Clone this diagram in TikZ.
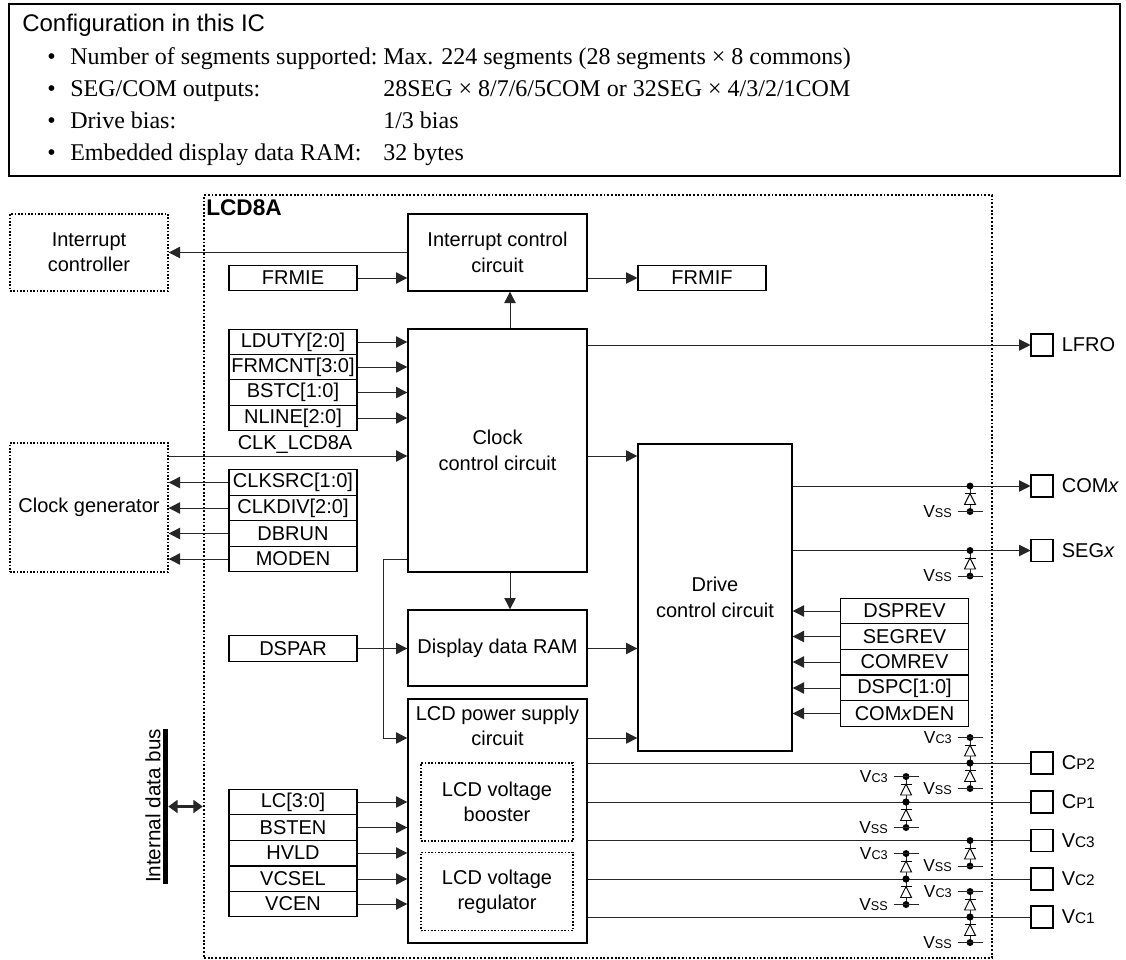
\documentclass[tikz,border=0pt]{standalone}
\usepackage{fontspec}
\setmainfont{Liberation Sans}
\newfontfamily\cfgfont{Liberation Serif}
\usetikzlibrary{arrows.meta}
\newcommand{\smalltype}[1]{{\fontsize{11.5}{11.5}\selectfont #1}}
\newcommand{\railtype}[1]{{\fontsize{9.5}{9.5}\selectfont #1}}
\tikzset{
  every node/.style={inner sep=0pt,align=center,font=\fontsize{15}{19}\selectfont},
  blockbox/.style={draw,line width=1pt,fill=white,minimum width=134.25pt},
  regbox/.style={draw,line width=.8pt,fill=white,minimum width=96pt,minimum height=19.2pt},
  pinbox/.style={draw,line width=.8pt,minimum width=16.5pt,minimum height=16.5pt},
  dotbox/.style={draw,line width=1pt,dash pattern=on 1.2pt off 1.3pt},
  sig/.style={line width=.75pt,black!85,-{Triangle[length=8.5pt,width=8.5pt]}},
  wire/.style={line width=.75pt,black!85},
  cfgtext/.style={anchor=base west,font=\cfgfont\fontsize{18}{20}\selectfont},
  railtext/.style={anchor=east,font=\fontsize{13}{15}\selectfont},
  pintext/.style={anchor=west},
  diodepic/.pic={
    \draw[line width=.7pt] (-5.5,0) -- (5.5,0);
    \draw[line width=.7pt,fill=white] (0,0) -- (-5.5,11) -- (5.5,11) -- cycle;
  }
}
\begin{document}
\begin{tikzpicture}[x=0.75pt,y=-0.75pt]
  \useasboundingbox (0,0) rectangle (1126,959);
  \node[draw,line width=.9pt,minimum width=833.25pt,minimum height=129pt] (cfgbox) at (564.5,90) {};
  \node[anchor=base west,font=\fontsize{18}{20}\selectfont] (cfgtitle) at (22,32) {Configuration in this IC};
  \foreach \nm/\lbl/\val/\y in {
    rowa/Number of segments supported:/{Max. 224 segments (28 segments × 8 commons)}/65,
    rowb/SEG{/}COM outputs:/{28SEG × 8{/}7{/}6{/}5COM or 32SEG × 4{/}3{/}2{/}1COM}/97,
    rowc/Drive bias:/{1{/}3 bias}/129,
    rowd/Embedded display data RAM:/32 bytes/161}{
    \node[cfgtext] (\nm dot) at (47,\y) {•};
    \node[cfgtext] (\nm lbl) at (70,\y) {\lbl};
    \node[cfgtext] (\nm val) at (383,\y) {\val};
  }

  \node[dotbox,line width=1.8pt,dash pattern=on 1.4pt off 1.4pt,minimum width=591pt,minimum height=572.25pt] (lcd) at (598,576.5) {};
  \node[anchor=north west,font=\bfseries\fontsize{17}{19}\selectfont] (lcdname) at (206,199) {LCD8A};
  \node[dotbox,minimum width=118.5pt,minimum height=57.75pt] (intc) at (89,252.5) {Interrupt\\controller};
  \node[dotbox,minimum width=118.5pt,minimum height=96.75pt] (clkgen) at (89,507.5) {Clock generator};

  \node[blockbox,minimum height=57.75pt] (icc) at (497.5,252.5) {Interrupt control\\circuit};
  \node[blockbox,minimum height=182.25pt] (ccc) at (497.5,450.5) {Clock\\control circuit};
  \node[blockbox,minimum height=57pt] (ram) at (497.5,648) {Display data RAM};
  \node[blockbox,minimum height=183pt] (lps) at (497.5,821) {};
  \node (lpstext) at (497.5,726) {LCD power supply\\circuit};
  \node[dotbox,minimum width=114pt,minimum height=58.5pt] (boost) at (497,802) {LCD voltage\\booster};
  \node[dotbox,minimum width=114pt,minimum height=58.5pt] (regu) at (497,891.5) {LCD voltage\\regulator};
  \node[blockbox,minimum width=115.5pt,minimum height=230.25pt] (drive) at (715,597.5) {Drive\\control circuit};

  \foreach \nm/\lbl/\x/\y in {
    frmie/FRMIE/293/278, frmif/FRMIF/702/278,
    lduty/LDUTY[2:0]/293/342, frmcnt/FRMCNT[3:0]/293/367, bstc/BSTC[1:0]/293/392.5, nline/NLINE[2:0]/293/418,
    clksrc/CLKSRC[1:0]/293/482.5, clkdiv/CLKDIV[2:0]/293/508, dbrun/DBRUN/293/533.5, moden/MODEN/293/559,
    dspar/DSPAR/293/648.5,
    lcreg/LC[3:0]/293/802, bsten/BSTEN/293/827.5, hvld/HVLD/293/853, vcsel/VCSEL/293/879, vcen/VCEN/293/904,
    dsprev/DSPREV/904.5/611, segrev/SEGREV/904.5/636.5, comrev/COMREV/904.5/662, dspc/DSPC[1:0]/904.5/688, comden/COM\textit{x}DEN/904.5/713.5}{
    \node[regbox] (\nm) at (\x,\y) {\lbl};
  }
  \foreach \nm/\lbl/\y in {
    pinlfro/LFRO/345, pincom/COM\textit{x}/486, pinseg/SEG\textit{x}/550.5,
    pincpb/C\smalltype{P2}/763, pincpa/C\smalltype{P1}/802, pinvcc/V\smalltype{C3}/840.5, pinvcb/V\smalltype{C2}/879, pinvca/V\smalltype{C1}/917}{
    \node[pinbox] (\nm) at (1042,\y) {};
    \node[pintext] (\nm text) at ([xshift=6pt]\nm.east) {\lbl};
  }

  \coordinate (clkup) at (510,310);
  \coordinate (clkline) at (300,456);
  \coordinate (lpsfeed) at (383,738);
  \draw[sig] (icc.west) -- (intc.east);
  \draw[sig] (frmie.east) -- (frmie -| icc.west);
  \draw[sig] (icc.east |- frmif) -- (frmif.west);
  \draw[sig] (clkup |- ccc.north) -- (clkup |- icc.south);
  \draw[sig] (clkup |- ccc.south) -- (clkup |- ram.north);
  \foreach \nm in {lduty,frmcnt,bstc,nline}
    \draw[sig] (\nm.east) -- (\nm -| ccc.west);
  \foreach \nm in {clksrc,clkdiv,dbrun,moden}
    \draw[sig] (\nm.west) -- (\nm -| clkgen.east);
  \foreach \nm in {lcreg,bsten,hvld,vcsel,vcen}
    \draw[sig] (\nm.east) -- (\nm -| lps.west);
  \foreach \nm in {dsprev,segrev,comrev,dspc,comden}
    \draw[sig] (\nm.west) -- (\nm -| drive.east);
  \draw[sig] (clkline -| clkgen.east) -- (clkline -| ccc.west);
  \node (clkname) at (295,445) {CLK\_LCD8A};
  \draw[sig] (clkline -| ccc.east) -- (clkline -| drive.west);
  \draw[sig] (ccc.west |- moden) -- (lpsfeed |- moden) -- (lpsfeed) -- (lpsfeed -| lps.west);
  \draw[sig] (dspar.east) -- (dspar -| ram.west);
  \draw[sig] (ram.east |- dspar) -- (dspar -| drive.west);
  \draw[sig] (lpsfeed -| lps.east) -- (lpsfeed -| drive.west);
  \draw[sig] (ccc.east |- pinlfro) -- (pinlfro.west);
  \draw[sig] (drive.east |- pincom) -- (pincom.west);
  \draw[sig] (drive.east |- pinseg) -- (pinseg.west);
  \foreach \nm in {pincpb,pincpa,pinvcc,pinvcb,pinvca}
    \draw[wire] (lps.east |- \nm) -- (\nm.west);

  \foreach \x/\y in {970/486,970/550.5,970/763,906/802,970/840.5,906/879,970/917}{
    \draw[wire] (\x,\y) -- (\x,\y+25.5);
    \pic at (\x,\y+7.5) {diodepic};
    \fill (\x,\y) circle (2.6pt);
    \fill (\x,\y+25.5) circle (2.6pt);
    \draw[wire] (\x-12.5,\y+25.5) -- (\x+12.5,\y+25.5);
    \node[railtext] (vss\x\y) at (\x-18,\y+25.5) {V\railtype{SS}};
  }
  \foreach \x/\y in {970/763,906/802,906/879,970/917}{
    \draw[wire] (\x,\y-25.5) -- (\x,\y);
    \pic at (\x,\y-18) {diodepic};
    \fill (\x,\y) circle (2.6pt);
    \fill (\x,\y-25.5) circle (2.6pt);
    \draw[wire] (\x-12.5,\y-25.5) -- (\x+12.5,\y-25.5);
    \node[railtext] (vcc\x\y) at (\x-18,\y-25.5) {V\railtype{C3}};
  }

  \node[fill=black,minimum width=3.6pt,minimum height=116pt] (bus) at (165.5,806.5) {};
  \node[rotate=90,font=\fontsize{15.5}{19}\selectfont] (busname) at (153,806) {Internal data bus};
  \draw[line width=2pt,black!85,{Triangle[length=7pt,width=9.5pt]}-{Triangle[length=7pt,width=9.5pt]}] (bus.east) -- (bus -| lcd.west);
\end{tikzpicture}
\end{document}
